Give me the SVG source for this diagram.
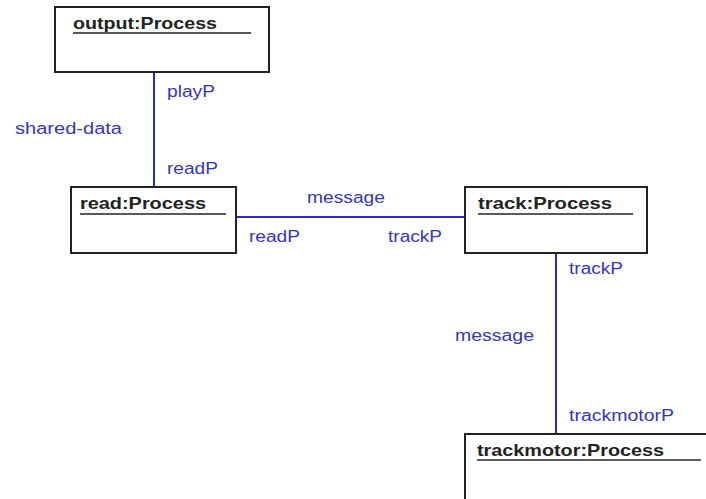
<svg xmlns="http://www.w3.org/2000/svg" width="706" height="499" viewBox="0 0 706 499">
<style>
.box{fill:#fff;stroke:#222;stroke-width:2}
.ul{stroke:#222;stroke-width:1.5}
.name{font-family:"Liberation Sans",Arial,sans-serif;font-weight:bold;font-size:17px;fill:#222}
.lbl{font-family:"Liberation Sans",Arial,sans-serif;font-size:16px;fill:#3535c0}
.con{stroke:#2a2ac0;stroke-width:2;fill:none}
</style>
<rect width="706" height="499" fill="#fff"/>
<g id="connectors">
<line class="con" x1="154" y1="72" x2="154" y2="187"/>
<line class="con" x1="236" y1="217" x2="465" y2="217"/>
<line class="con" x1="556" y1="253" x2="556" y2="434"/>
<text class="lbl" x="167" y="97" textLength="48" lengthAdjust="spacingAndGlyphs">playP</text>
<text class="lbl" x="15" y="134" textLength="107" lengthAdjust="spacingAndGlyphs">shared-data</text>
<text class="lbl" x="167" y="174" textLength="51" lengthAdjust="spacingAndGlyphs">readP</text>
<text class="lbl" x="307" y="203" textLength="78" lengthAdjust="spacingAndGlyphs">message</text>
<text class="lbl" x="249" y="242" textLength="51" lengthAdjust="spacingAndGlyphs">readP</text>
<text class="lbl" x="388" y="242" textLength="54" lengthAdjust="spacingAndGlyphs">trackP</text>
<text class="lbl" x="569" y="274" textLength="54" lengthAdjust="spacingAndGlyphs">trackP</text>
<text class="lbl" x="455" y="341" textLength="79" lengthAdjust="spacingAndGlyphs">message</text>
<text class="lbl" x="569" y="421" textLength="105" lengthAdjust="spacingAndGlyphs">trackmotorP</text>
</g>
<g id="output">
<rect class="box" x="55" y="7" width="214" height="65"/>
<text class="name" x="73" y="29" textLength="144" lengthAdjust="spacingAndGlyphs">output:Process</text>
<line class="ul" x1="73" y1="33" x2="251" y2="33"/>
</g>
<g id="read">
<rect class="box" x="71" y="187" width="165" height="66"/>
<text class="name" x="80" y="209" textLength="126" lengthAdjust="spacingAndGlyphs">read:Process</text>
<line class="ul" x1="80" y1="214" x2="226" y2="214"/>
</g>
<g id="track">
<rect class="box" x="465" y="187" width="182" height="66"/>
<text class="name" x="478" y="209" textLength="134" lengthAdjust="spacingAndGlyphs">track:Process</text>
<line class="ul" x1="478" y1="214" x2="633" y2="214"/>
</g>
<g id="trackmotor">
<rect class="box" x="465" y="434" width="260" height="80"/>
<text class="name" x="477" y="456" textLength="187" lengthAdjust="spacingAndGlyphs">trackmotor:Process</text>
<line class="ul" x1="477" y1="460" x2="701" y2="460"/>
</g>
</svg>
